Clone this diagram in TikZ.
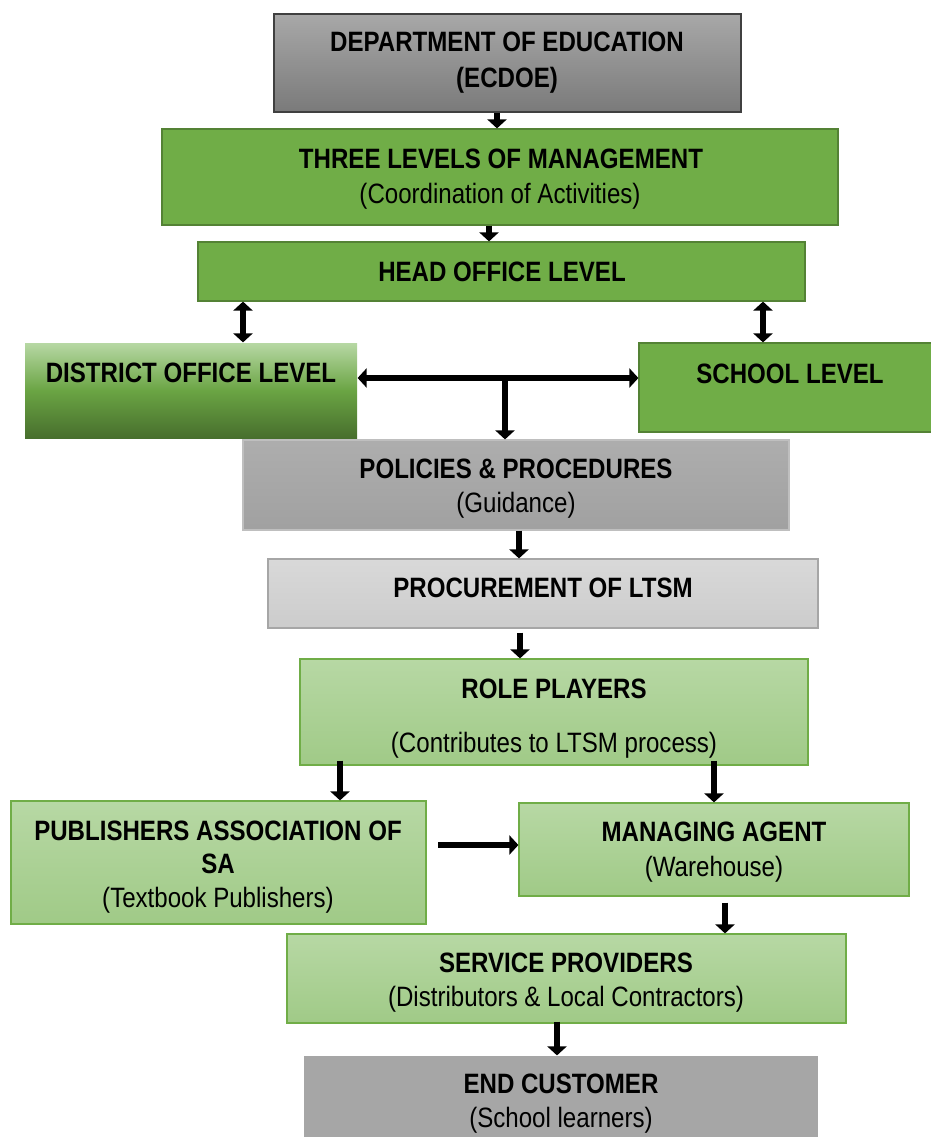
\documentclass[tikz,border=0pt]{standalone}
\usepackage{fontspec}
\setmainfont{Liberation Sans}[FakeStretch=0.86]
\usetikzlibrary{arrows.meta,calc}
\definecolor{gA}{HTML}{70AD47}
\definecolor{gB}{HTML}{548235}
\definecolor{lgT}{HTML}{B7D8A4}
\definecolor{lgB}{HTML}{A0CA87}
\definecolor{grT}{HTML}{A8A8A8}
\definecolor{grB}{HTML}{7A7A7A}
\tikzset{
  box/.style={rectangle, inner sep=0pt, line width=1.2pt},
  darkbox/.style={box, top color=grT, bottom color=grB, draw=black!75},
  greenbox/.style={box, draw=gB, fill=gA},
  lightbox/.style={box, draw=gA, top color=lgT, bottom color=lgB},
  policybox/.style={box, draw=black!25, top color=black!32, bottom color=black!37},
  procbox/.style={box, draw=black!35, top color=black!15, bottom color=black!20},
  endbox/.style={box, fill=black!35},
  distbox/.style={box, top color=lgT, bottom color=gB!85!black, middle color=gA!95!black},
  tb/.style={font=\fontsize{28}{32}\selectfont\bfseries, text height=20pt, text depth=0pt, inner sep=0pt},
  tn/.style={font=\fontsize{28}{32}\selectfont, text height=20pt, text depth=0pt, inner sep=0pt},
  arr/.style={line width=6.5pt, -{Triangle[width=19pt,length=9pt]}},
  darr/.style={line width=6.5pt, {Triangle[width=19pt,length=9pt]}-{Triangle[width=19pt,length=9pt]}},
}
\begin{document}
\begin{tikzpicture}[x=1pt,y=-1pt]
\useasboundingbox (0,0) rectangle (931,1137);
% boxes
\node[darkbox, minimum width=467pt, minimum height=98pt] (dept) at (507.5,63) {};
\node[greenbox, minimum width=676pt, minimum height=96pt] (three) at (500,177) {};
\node[greenbox, minimum width=607pt, minimum height=59pt] (head) at (501.5,271.5) {};
\node[distbox, minimum width=332pt, minimum height=95pt] (dist) at (191,390.5) {};
\node[greenbox, minimum width=294pt, minimum height=89pt] (school) at (786,387.5) {};
\node[policybox, minimum width=546pt, minimum height=90pt] (pol) at (516,485) {};
\node[procbox, minimum width=550pt, minimum height=69pt] (proc) at (543,593.5) {};
\node[lightbox, minimum width=508pt, minimum height=106pt] (role) at (554,712) {};
\node[lightbox, minimum width=415pt, minimum height=123pt] (pub) at (218.5,862.5) {};
\node[lightbox, minimum width=390pt, minimum height=93pt] (mng) at (714,849.5) {};
\node[lightbox, minimum width=559pt, minimum height=89pt] (serv) at (566.5,978.5) {};
\node[endbox, minimum width=514pt, minimum height=84pt] (endc) at (561,1098) {};
% texts
\node[tb] (t1a) at (507,42) {DEPARTMENT OF EDUCATION};
\node[tb] (t1b) at (507,78) {(ECDOE)};
\node[tb] (t2a) at (501,158) {THREE LEVELS OF MANAGEMENT};
\node[tn] (t2b) at (500,193) {(Coordination of Activities)};
\node[tb] (t3) at (502,271) {HEAD OFFICE LEVEL};
\node[tb] (t4) at (191,372) {DISTRICT OFFICE LEVEL};
\node[tb] (t5) at (790,373) {SCHOOL LEVEL};
\node[tb] (t6a) at (516,468) {POLICIES \& PROCEDURES};
\node[tn] (t6b) at (516,502) {(Guidance)};
\node[tb] (t7) at (543,587) {PROCUREMENT OF LTSM};
\node[tb] (t8a) at (554,688) {ROLE PLAYERS};
\node[tn] (t8b) at (554,742) {(Contributes to LTSM process)};
\node[tb] (t9a) at (218,830) {PUBLISHERS ASSOCIATION OF};
\node[tb] (t9b) at (218,863) {SA};
\node[tn] (t9c) at (218,897) {(Textbook Publishers)};
\node[tb] (t10a) at (714,831) {MANAGING AGENT};
\node[tn] (t10b) at (714,866) {(Warehouse)};
\node[tb] (t11a) at (566,962) {SERVICE PROVIDERS};
\node[tn] (t11b) at (566,996) {(Distributors \& Local Contractors)};
\node[tb] (t12a) at (561,1083) {END CUSTOMER};
\node[tn] (t12b) at (561,1117) {(School learners)};
% connectors
\draw[arr] (dept.south -| 497,0) -- (three.north -| 497,0);
\draw[arr] (three.south -| 489,0) -- (head.north -| 489,0);
\draw[darr] (head.south -| 243,0) -- (dist.north -| 243,0);
\draw[darr] (head.south -| 763,0) -- (school.north -| 763,0);
\coordinate (tj) at (505,378);
\draw[darr] (dist.east |- tj) -- (school.west |- tj);
\draw[arr] (tj) -- (pol.north -| tj);
\draw[arr] (pol.south -| 519,0) -- (proc.north -| 519,0);
\draw[arr] ($(proc.south -| 520,0)+(0,4)$) -- (role.north -| 520,0);
\draw[arr] ($(role.south -| 340,0)+(0,-5)$) -- (pub.north -| 340,0);
\draw[arr] ($(role.south -| 714,0)+(0,-5)$) -- (mng.north -| 714,0);
\coordinate (pm) at (438,845);
\draw[arr] (pm) -- (mng.west |- pm);
\draw[arr] ($(mng.south -| 725,0)+(0,6)$) -- (serv.north -| 725,0);
\draw[arr] ($(serv.south -| 557,0)+(0,-2)$) -- (endc.north -| 557,0);
\end{tikzpicture}
\end{document}
